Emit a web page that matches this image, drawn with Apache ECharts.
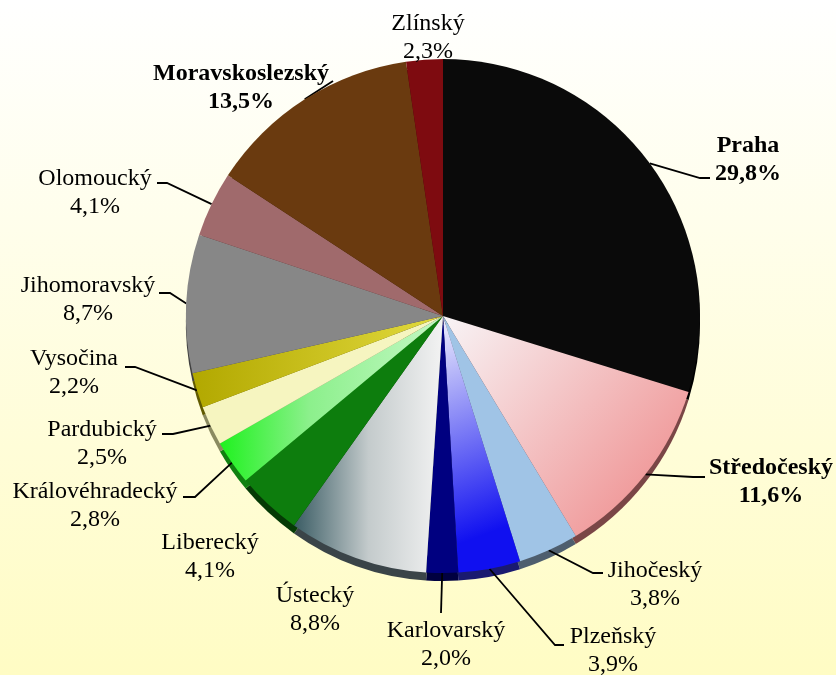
<!DOCTYPE html>
<html>
<head>
<meta charset="utf-8">
<script src="https://cdn.jsdelivr.net/npm/echarts@6/dist/echarts.min.js"></script>
<style>
  html, body { margin: 0; padding: 0; background: #ffffff; }
  #chart { width: 836px; height: 675px; }
</style>
</head>
<body>
<div id="chart"></div>
<script>
// Regional shares (%), clockwise from 12 o'clock
const regions = ['Praha', 'Středočeský', 'Jihočeský', 'Plzeňský', 'Karlovarský', 'Ústecký',
  'Liberecký', 'Královéhradecký', 'Pardubický', 'Vysočina', 'Jihomoravský', 'Olomoucký',
  'Moravskoslezský', 'Zlínský'];
const shares = [29.8, 11.6, 3.8, 3.9, 2.0, 8.8, 4.1, 2.8, 2.5, 2.2, 8.7, 4.1, 13.5, 2.3];
const boldRegions = ['Praha', 'Středočeský', 'Moravskoslezský'];
const unlinkedRegions = ['Ústecký', 'Liberecký', 'Zlínský'];

// Label block centres and leader-line bends/ends (px)
const labelAt = [[748, 160], [771, 482], [655, 585], [613, 651], [446, 645], [315, 610],
  [210, 557], [95, 506], [102, 444], [74, 373], [88, 300], [95, 193], [241, 88], [428, 38]];
const leaderBend = [[700, 178], [693, 477], [593, 573], [555, 645], [441, 613], null, null,
  [195, 497], [173, 434], [135, 367], [170, 293], [167, 183], [333, 81], null];
const leaderEnd = [[710, 178], [705, 477], [603, 573], [564, 645], [441, 613], null, null,
  [183, 497], [162, 434], [125, 367], [159, 293], [157, 183], [333, 81], null];

function lin(x, y, x2, y2, stops) {
  return {
    type: 'linear', x: x, y: y, x2: x2, y2: y2,
    colorStops: stops.map(s => ({ offset: s[0], color: s[1] }))
  };
}

// Top-face fills
const faceFill = [
  '#0a0a0a',
  lin(0, 0, 1, 1, [[0, '#f8f4f6'], [1, '#ee8585']]),
  '#a0c4e6',
  lin(0, 0, 1, 0.8, [[0, '#f0f0fc'], [1, '#1010f0']]),
  '#000080',
  lin(0, 0, 1, 0, [[0, '#3a5c64'], [0.5, '#c4cbcc'], [1, '#f3f3f3']]),
  '#0d7d0d',
  lin(0, 0, 1, 0, [[0, '#1ff21f'], [0.4, '#8cf08c'], [1, '#c4f8c4']]),
  '#f6f5c0',
  lin(0, 0, 1, 0, [[0, '#b2a800'], [1, '#e2da3e']]),
  '#878787',
  '#a06a6c',
  '#6a3a0f',
  '#7e0b10'
];
// Side (rim) fills
const rimFill = ['#000000', '#7a4646', '#4e5e6e', '#1a1a70', '#000040', '#3a4448',
  '#053a05', '#108010', '#8a8a60', '#605a00', '#404040', '#503434', '#351d06', '#400508'];

const fmt = v => v.toFixed(1).replace('.', ',') + '%';

const pieCenter = [443, 316];
const pieRadius = 257;

const faceData = regions.map((name, i) => ({
  name: name,
  value: shares[i],
  itemStyle: { color: faceFill[i] },
  label: { fontWeight: boldRegions.includes(name) ? 'bold' : 'normal' },
  labelLine: { show: !unlinkedRegions.includes(name) }
}));
const rimData = regions.map((name, i) => ({
  name: name,
  value: shares[i],
  itemStyle: { color: rimFill[i] }
}));

const chart = echarts.init(document.getElementById('chart'), null, { renderer: 'canvas' });
chart.setOption({
  backgroundColor: lin(0, 0, 0, 1, [[0, '#ffffff'], [1, '#fffcc4']]),
  animation: false,
  series: [
    {
      type: 'pie',
      name: 'rim',
      silent: true,
      z: 1,
      center: [pieCenter[0], pieCenter[1] + 8],
      radius: pieRadius,
      startAngle: 90,
      clockwise: true,
      label: { show: false },
      labelLine: { show: false },
      data: rimData
    },
    {
      type: 'pie',
      name: 'face',
      z: 2,
      center: pieCenter,
      radius: pieRadius,
      startAngle: 90,
      clockwise: true,
      avoidLabelOverlap: false,
      label: {
        show: true,
        position: 'outside',
        fontFamily: '"Liberation Serif", "Times New Roman", serif',
        fontSize: 24,
        lineHeight: 28,
        color: '#000000',
        align: 'center',
        formatter: p => p.name + '\n' + fmt(p.value)
      },
      labelLine: {
        show: true,
        length: 10,
        length2: 10,
        lineStyle: { color: '#000000', width: 1.8 }
      },
      labelLayout: function (params) {
        const i = params.dataIndex;
        const out = {
          x: labelAt[i][0],
          y: labelAt[i][1],
          align: 'center',
          verticalAlign: 'middle'
        };
        if (leaderBend[i] && params.labelLinePoints) {
          const start = params.labelLinePoints[0];
          out.labelLinePoints = [start, leaderBend[i], leaderEnd[i]];
        }
        return out;
      },
      data: faceData
    }
  ]
});
</script>
</body>
</html>
